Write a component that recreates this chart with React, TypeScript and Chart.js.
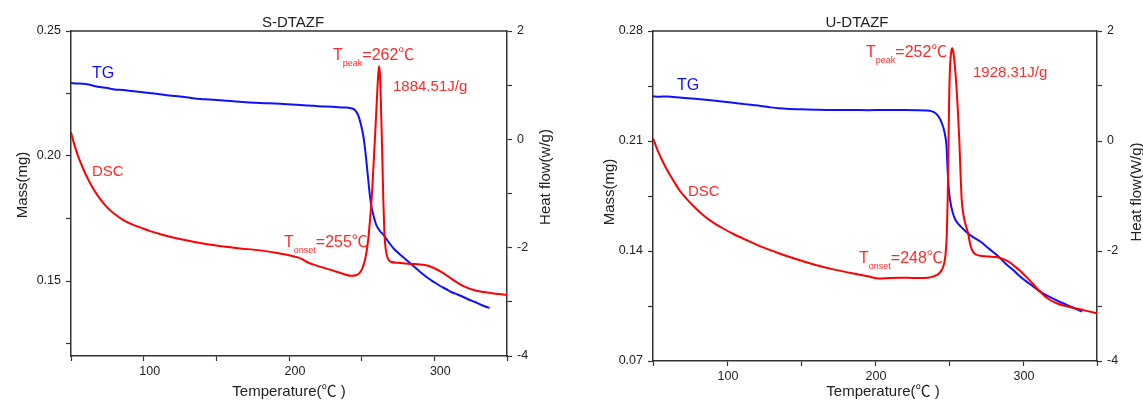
import React, { useEffect, useRef } from 'react';
import { Chart, registerables } from 'chart.js';

Chart.register(...registerables);

// ---------- data: S-DTAZF ----------
const sTG: [number, number][] = [
  [50, 0.2292], [54, 0.229], [58, 0.2289], [62, 0.2286], [66, 0.228], [70, 0.2276], [75, 0.2272],
  [80, 0.2266], [86, 0.2264], [92, 0.226], [98, 0.2256], [104, 0.2252], [110, 0.2248], [116, 0.2243],
  [122, 0.224], [128, 0.2236], [134, 0.2231], [139, 0.2228], [145, 0.2226], [150, 0.2224], [155, 0.2222],
  [160, 0.222], [166, 0.2217], [173, 0.2214], [180, 0.2212], [186, 0.2211], [190, 0.221], [196, 0.2208],
  [202, 0.2206], [208, 0.2204], [214, 0.2202], [220, 0.2199], [226, 0.2198], [232, 0.2196], [238, 0.2194],
  [242, 0.2192], [245, 0.2186], [247.5, 0.2165], [249.5, 0.2125], [251, 0.2085], [252.5, 0.202],
  [254, 0.1935], [255.5, 0.185], [256.5, 0.1805], [258, 0.1765], [260, 0.1725], [262.5, 0.17],
  [265, 0.1685], [268, 0.166], [272, 0.163], [276, 0.1608], [280, 0.1588], [284, 0.1568], [288, 0.1548],
  [292, 0.1528], [296, 0.151], [300, 0.1495], [304, 0.148], [308, 0.1468], [312, 0.1455], [316, 0.1446],
  [320, 0.1436], [324, 0.1425], [328, 0.1416], [332, 0.1405], [336, 0.1396], [338, 0.1392],
];
const sDSC: [number, number][] = [
  [50, 0.13], [52, -0.07], [54, -0.24], [56, -0.39], [58, -0.52], [60, -0.64], [63, -0.8], [66, -0.94],
  [70, -1.1], [75, -1.26], [80, -1.38], [86, -1.49], [92, -1.57], [98, -1.63], [104, -1.69], [114, -1.77],
  [125, -1.84], [136, -1.9], [150, -1.96], [165, -2.01], [180, -2.05], [192, -2.1], [200, -2.14],
  [206, -2.18], [209, -2.21], [212, -2.26], [220, -2.34], [230, -2.42], [238, -2.49], [243, -2.52],
  [246, -2.51], [248.5, -2.47], [250.5, -2.38], [252.5, -2.2], [254.5, -1.85], [256, -1.4], [257, -1.05],
  [258.2, -0.45], [259.3, 0.1], [260.5, 0.75], [261.4, 1.2], [262, 1.35], [262.6, 1.2], [263.2, 0.7],
  [263.8, 0.1], [264.4, -0.55], [264.9, -1.12], [265.6, -1.7], [266.5, -2.02], [268, -2.2], [270, -2.26],
  [275, -2.28], [284, -2.3], [290, -2.31], [295, -2.33], [300, -2.38], [305, -2.45], [310, -2.54],
  [315, -2.63], [320, -2.71], [327, -2.78], [334, -2.82], [342, -2.85], [350, -2.87],
];

// ---------- data: U-DTAZF ----------
const uTG: [number, number][] = [
  [50, 0.2385], [54, 0.2382], [60, 0.2383], [66, 0.2378], [73.6, 0.2372], [80, 0.2368], [86, 0.2362],
  [92, 0.2356], [98, 0.235], [104, 0.2344], [110, 0.2337], [116, 0.233], [122.6, 0.2323], [128, 0.2316],
  [134.9, 0.2308], [142, 0.2304], [150, 0.2302], [160, 0.2299], [171, 0.2297], [183, 0.2297], [195, 0.2296],
  [207, 0.2297], [220, 0.2297], [228, 0.2296], [234, 0.2294], [238, 0.229], [240.5, 0.228], [242.5, 0.2262],
  [244, 0.2238], [245.5, 0.2205], [246.5, 0.2175], [247.5, 0.213], [248.3, 0.207], [249, 0.193],
  [249.7, 0.181], [250.7, 0.1725], [252.5, 0.1645], [254.4, 0.1597], [258, 0.1555], [261.5, 0.1523],
  [266, 0.149], [271.4, 0.1459], [277, 0.1415], [283.6, 0.1364], [288, 0.1322], [293.3, 0.1279],
  [299, 0.123], [305.5, 0.1184], [311, 0.1145], [317.6, 0.1109], [324, 0.108], [330, 0.1056],
  [335, 0.1035], [340, 0.1014],
];
const uDSC: [number, number][] = [
  [50, 0.05], [53, -0.16], [56, -0.34], [60, -0.55], [64, -0.73], [68, -0.9], [73, -1.06], [78, -1.2],
  [84, -1.35], [90, -1.47], [98, -1.6], [105, -1.7], [113, -1.8], [124, -1.93], [134.9, -2.04], [147, -2.15],
  [159.3, -2.25], [171, -2.33], [183.6, -2.4], [195, -2.46], [203, -2.5], [210, -2.49], [218, -2.485],
  [226, -2.49], [233, -2.49], [238, -2.475], [241.5, -2.44], [244.5, -2.37], [246.5, -2.25], [247.7, -2.05],
  [248.5, -1.7], [249.1, -1.07], [249.6, -0.16], [250.1, 0.75], [250.7, 1.35], [251.5, 1.62], [252.2, 1.685],
  [253, 1.6], [254, 1.35], [255, 1.0], [256, 0.55], [257, 0.0], [257.8, -0.6], [258.6, -1.07], [259.5, -1.3],
  [261, -1.5], [262.8, -1.67], [264.5, -1.9], [266.6, -2.03], [270, -2.08], [276.4, -2.1],
  [282, -2.11], [286, -2.14], [290, -2.19], [294, -2.27], [298, -2.36], [304, -2.52], [310.5, -2.71],
  [316, -2.85], [322.7, -2.95], [330, -3.01], [340, -3.07], [350, -3.13],
];

// ---------- ticks ----------
const tempTicks = [50, 100, 150, 200, 250, 300, 350];
const tempLabels = [100, 200, 300];
const sMassTicks = [0.125, 0.15, 0.175, 0.2, 0.225, 0.25];
const sMassLabels = [0.15, 0.2, 0.25];
const uMassTicks = [0.07, 0.105, 0.14, 0.175, 0.21, 0.245, 0.28];
const uMassLabels = [0.07, 0.14, 0.21, 0.28];
const flowTicks = [-4, -3, -2, -1, 0, 1, 2];
const flowLabels = [-4, -2, 0, 2];

const FAMILY = '"Liberation Sans", Arial, "Noto Sans CJK SC", sans-serif';
const AXIS = '#333333';
const TEXT = '#222222';
const BLUE = '#1010ff';
const RED = '#ff0000';
const RED_TEXT = '#ff2a2a';

const has = (arr: number[], v: number) => arr.some((a) => Math.abs(a - v) < 1e-9);

type Sub = { x: number; y: number; main: string; sub: string; rest: string };
type Cfg = {
  title: string; titleX: number;
  tg: [number, number][]; dsc: [number, number][];
  massMin: number; massMax: number; massTicks: number[]; massLabels: number[];
  leftW: number; rightW: number; xH: number; xLabelOffset: number;
  xTitleX: number; massTitleX: number; massTitleY: number;
  flowTitle: string; flowTitleX: number; flowTitleY: number;
  tgLabel: [number, number]; dscLabel: [number, number];
  peak: Sub; onset: Sub; energy: string; energyPos: [number, number];
};

function drawSub(ctx: CanvasRenderingContext2D, s: Sub) {
  ctx.textAlign = 'left';
  ctx.textBaseline = 'alphabetic';
  ctx.fillStyle = RED_TEXT;
  let x = s.x;
  ctx.font = `16px ${FAMILY}`;
  ctx.fillText(s.main, x, s.y);
  x += ctx.measureText(s.main).width;
  ctx.font = `9px ${FAMILY}`;
  ctx.fillText(s.sub, x, s.y + 6);
  x += ctx.measureText(s.sub).width;
  ctx.font = `16px ${FAMILY}`;
  ctx.fillText(s.rest, x, s.y);
}

function rotText(ctx: CanvasRenderingContext2D, text: string, x: number, y: number) {
  ctx.save();
  ctx.translate(x, y);
  ctx.rotate(-Math.PI / 2);
  ctx.textAlign = 'center';
  ctx.textBaseline = 'alphabetic';
  ctx.fillText(text, 0, 0);
  ctx.restore();
}

function buildConfig(c: Cfg): any {
  const overlay = {
    id: 'overlay',
    afterDraw(chart: any) {
      const { ctx, chartArea: ca } = chart;
      ctx.save();
      ctx.strokeStyle = AXIS;
      ctx.lineWidth = 1.5;
      ctx.beginPath();
      ctx.moveTo(ca.left, ca.top);
      ctx.lineTo(ca.right, ca.top);
      ctx.stroke();

      ctx.fillStyle = TEXT;
      ctx.font = `15px ${FAMILY}`;
      ctx.textAlign = 'center';
      ctx.textBaseline = 'alphabetic';
      ctx.fillText(c.title, c.titleX, 27);
      ctx.fillText('Temperature(℃ )', c.xTitleX, 396);
      rotText(ctx, 'Mass(mg)', c.massTitleX, c.massTitleY);
      rotText(ctx, c.flowTitle, c.flowTitleX, c.flowTitleY);

      ctx.textAlign = 'left';
      ctx.fillStyle = BLUE;
      ctx.font = `16px ${FAMILY}`;
      ctx.fillText('TG', c.tgLabel[0], c.tgLabel[1]);
      ctx.fillStyle = RED_TEXT;
      ctx.font = `15px ${FAMILY}`;
      ctx.fillText('DSC', c.dscLabel[0], c.dscLabel[1]);
      ctx.fillText(c.energy, c.energyPos[0], c.energyPos[1]);
      drawSub(ctx, c.peak);
      drawSub(ctx, c.onset);
      ctx.restore();
    },
  };

  const tickFont = { family: FAMILY, size: 12.5 };
  const grid = { drawOnChartArea: false, drawTicks: true, tickLength: 5, tickColor: AXIS, tickWidth: 1.2 };
  const border = { display: true, color: AXIS, width: 1.5 };

  return {
    type: 'line',
    data: {
      datasets: [
        {
          label: 'DSC', data: c.dsc.map(([x, y]) => ({ x, y })), yAxisID: 'y2',
          borderColor: RED, borderWidth: 2, pointRadius: 0, fill: false, cubicInterpolationMode: 'monotone',
        },
        {
          label: 'TG', data: c.tg.map(([x, y]) => ({ x, y })), yAxisID: 'y',
          borderColor: BLUE, borderWidth: 2, pointRadius: 0, fill: false, cubicInterpolationMode: 'monotone',
        },
      ],
    },
    options: {
      responsive: false,
      animation: false,
      layout: { padding: { top: 31, left: 0, right: 0, bottom: 0 } },
      plugins: { legend: { display: false }, tooltip: { enabled: false }, title: { display: false } },
      scales: {
        x: {
          type: 'linear', position: 'bottom', min: 50, max: 350,
          afterBuildTicks: (s: any) => { s.ticks = tempTicks.map((v) => ({ value: v })); },
          afterFit: (s: any) => { s.height = c.xH; },
          ticks: {
            autoSkip: false, maxRotation: 0, padding: 3, color: TEXT, font: tickFont,
            labelOffset: c.xLabelOffset,
            callback: (v: number) => (has(tempLabels, v) ? String(v) : ''),
          },
          grid, border,
        },
        y: {
          type: 'linear', position: 'left', min: c.massMin, max: c.massMax,
          afterBuildTicks: (s: any) => { s.ticks = c.massTicks.map((v) => ({ value: v })); },
          afterFit: (s: any) => { s.width = c.leftW; },
          ticks: {
            autoSkip: false, padding: 5, color: TEXT, font: tickFont,
            callback: (v: number) => (has(c.massLabels, v) ? v.toFixed(2) : ''),
          },
          grid, border,
        },
        y2: {
          type: 'linear', position: 'right', min: -4, max: 2,
          afterBuildTicks: (s: any) => { s.ticks = flowTicks.map((v) => ({ value: v })); },
          afterFit: (s: any) => { s.width = c.rightW; },
          ticks: {
            autoSkip: false, padding: 5, color: TEXT, font: tickFont,
            callback: (v: number) => (has(flowLabels, v) ? String(v) : ''),
          },
          grid, border,
        },
      },
    },
    plugins: [overlay],
  };
}

const leftCfg: Cfg = {
  title: 'S-DTAZF', titleX: 293,
  tg: sTG, dsc: sDSC,
  massMin: 0.12, massMax: 0.25, massTicks: sMassTicks, massLabels: sMassLabels,
  leftW: 71, rightW: 73, xH: 52, xLabelOffset: 6,
  xTitleX: 289, massTitleX: 27, massTitleY: 185,
  flowTitle: 'Heat flow(w/g)', flowTitleX: 550, flowTitleY: 177,
  tgLabel: [92, 78], dscLabel: [92, 176],
  peak: { x: 333, y: 60, main: 'T', sub: 'peak', rest: '=262℃' },
  onset: { x: 284, y: 247, main: 'T', sub: 'onset', rest: '=255℃' },
  energy: '1884.51J/g', energyPos: [393, 91],
};

const rightCfg: Cfg = {
  title: 'U-DTAZF', titleX: 277,
  tg: uTG, dsc: uDSC,
  massMin: 0.07, massMax: 0.28, massTicks: uMassTicks, massLabels: uMassLabels,
  leftW: 73, rightW: 46, xH: 47, xLabelOffset: 1,
  xTitleX: 303, massTitleX: 34, massTitleY: 192,
  flowTitle: 'Heat flow(W/g)', flowTitleX: 561, flowTitleY: 192,
  tgLabel: [97, 90], dscLabel: [108, 196],
  peak: { x: 286, y: 57, main: 'T', sub: 'peak', rest: '=252℃' },
  onset: { x: 279, y: 263, main: 'T', sub: 'onset', rest: '=248℃' },
  energy: '1928.31J/g', energyPos: [393, 77],
};

function ThermoChart({ cfg, left, width }: { cfg: Cfg; left: number; width: number }) {
  const ref = useRef<HTMLCanvasElement>(null);
  useEffect(() => {
    const chart = new Chart(ref.current as HTMLCanvasElement, buildConfig(cfg));
    return () => chart.destroy();
  }, [cfg]);
  return (
    <canvas
      ref={ref}
      width={width}
      height={408}
      style={{ position: 'absolute', left, top: 0, width, height: 408, display: 'block' }}
    />
  );
}

export default function App() {
  return (
    <div style={{ position: 'absolute', left: 0, top: 0, width: 1143, height: 408, background: '#fff', overflow: 'hidden' }}>
      <ThermoChart cfg={leftCfg} left={0} width={580} />
      <ThermoChart cfg={rightCfg} left={580} width={563} />
    </div>
  );
}
